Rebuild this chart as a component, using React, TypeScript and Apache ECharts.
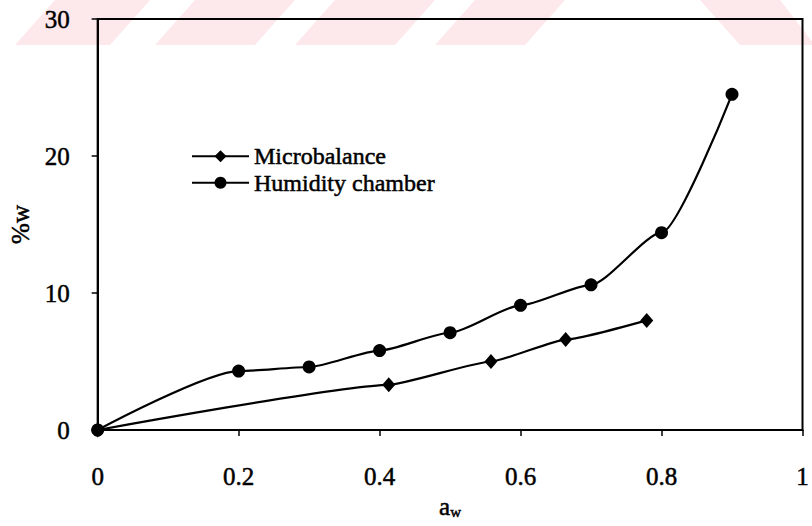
import React, { useEffect, useRef } from "react";
import * as echarts from "echarts";

const humidityX = [0, 0.2, 0.3, 0.4, 0.5, 0.6, 0.7, 0.8, 0.9];
const humidityY = [0, 4.3, 4.6, 5.8, 7.1, 9.1, 10.6, 14.4, 24.5];
const microX = [0, 0.413, 0.558, 0.664, 0.779];
const microY = [0, 3.3, 5.0, 6.6, 8.0];
const seriesNames = ["Microbalance", "Humidity chamber"];
const xTicks = [0, 0.2, 0.4, 0.6, 0.8, 1];
const yTicks = [0, 10, 20, 30];

const FONT = "Liberation Serif";
const PINK = "#fde8ec";
const THICK = { textBorderColor: "#000", textBorderWidth: 0.5 };

function stripe(xb: number, w: number, s: number) {
  return {
    type: "polygon",
    z: -10,
    silent: true,
    shape: { points: [[xb, 45], [xb + w, 45], [xb + w + s, 0], [xb + s, 0]] },
    style: { fill: PINK },
  };
}

export default function App() {
  const ref = useRef<HTMLDivElement>(null);
  useEffect(() => {
    document.body.style.margin = "0";
    const chart = echarts.init(ref.current!, null, { renderer: "svg" });
    const pair = (xs: number[], ys: number[]) => xs.map((x, i) => [x, ys[i]]);
    chart.setOption({
      animation: false,
      backgroundColor: "#ffffff",
      textStyle: { fontFamily: FONT, color: "#000" },
      graphic: [
        stripe(15, 95, 40),
        stripe(155, 100, 40),
        stripe(295, 100, 40),
        stripe(435, 90, 40),
        {
          type: "polygon",
          z: -10,
          silent: true,
          shape: { points: [[700, 0], [780, 0], [815, 45], [740, 45]] },
          style: { fill: PINK },
        },
      ],
      grid: {
        left: 92,
        top: 19,
        right: 1,
        bottom: 96,
        show: true,
        borderColor: "#000",
        borderWidth: 2,
        backgroundColor: "transparent",
      },
      legend: {
        orient: "vertical",
        left: 186,
        top: 139,
        itemWidth: 57,
        itemHeight: 15,
        itemGap: 2,
        data: seriesNames,
        textStyle: { fontFamily: FONT, fontSize: 24, color: "#000", ...THICK },
      },
      xAxis: {
        type: "value",
        min: 0,
        max: 1,
        interval: 0.2,
        axisLine: { lineStyle: { color: "#000", width: 2 } },
        axisTick: { show: true, length: 6, inside: false, lineStyle: { color: "#000", width: 1.5 } },
        splitLine: { show: false },
        axisLabel: {
          margin: 34,
          fontFamily: FONT,
          fontSize: 25,
          color: "#000",
          ...THICK,
          formatter: (v: number) => (xTicks.includes(Math.round(v * 10) / 10) ? String(Math.round(v * 10) / 10) : ""),
        },
        name: "{a|a}{w|w}",
        nameLocation: "middle",
        nameGap: 58,
        nameTextStyle: {
          rich: {
            a: { fontFamily: FONT, fontSize: 25, color: "#000", ...THICK },
            w: { fontFamily: FONT, fontSize: 15, color: "#000", padding: [10, 0, 0, 0], ...THICK },
          },
        },
      },
      yAxis: {
        type: "value",
        min: 0,
        max: 30,
        interval: 10,
        axisLine: { show: true, lineStyle: { color: "#000", width: 2 } },
        axisTick: { show: true, length: 6, lineStyle: { color: "#000", width: 1.5 } },
        splitLine: { show: false },
        axisLabel: {
          margin: 28,
          fontFamily: FONT,
          fontSize: 25,
          color: "#000",
          ...THICK,
          formatter: (v: number) => (yTicks.includes(v) ? String(v) : ""),
        },
        name: "%w",
        nameLocation: "middle",
        nameGap: 58,
        nameTextStyle: { fontFamily: FONT, fontSize: 25, color: "#000", ...THICK },
      },
      series: [
        {
          name: seriesNames[0],
          type: "line",
          data: pair(microX, microY),
          smooth: 0.15,
          smoothMonotone: "x",
          symbol: "diamond",
          symbolSize: [13, 15],
          color: "#000",
          lineStyle: { color: "#000", width: 2.2 },
          itemStyle: { color: "#000" },
          z: 3,
        },
        {
          name: seriesNames[1],
          type: "line",
          data: pair(humidityX, humidityY),
          smooth: 0.22,
          smoothMonotone: "x",
          symbol: "circle",
          symbolSize: 13,
          color: "#000",
          lineStyle: { color: "#000", width: 2.2 },
          itemStyle: { color: "#000" },
          z: 4,
        },
      ],
    });
    return () => chart.dispose();
  }, []);
  return <div ref={ref} style={{ width: 812, height: 526 }} />;
}
